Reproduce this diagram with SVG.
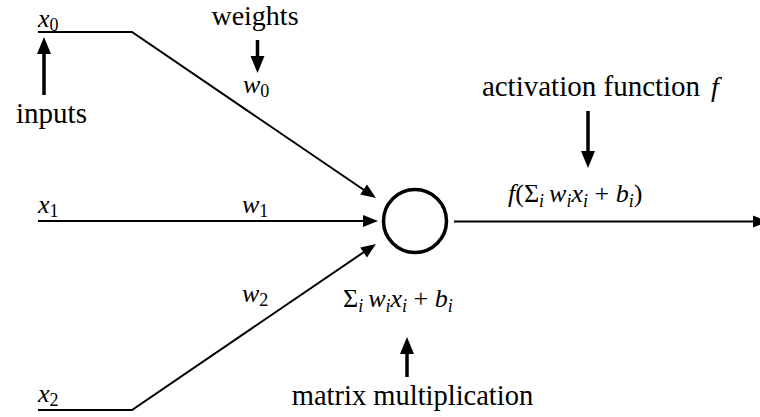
<svg xmlns="http://www.w3.org/2000/svg" width="760" height="417" viewBox="0 0 760 417">
<defs>
<path id="headThin" d="M0,0 L-15,-6 L-15,6 z" fill="#000"/>
<path id="headThick" d="M0,0 L-17,-7 L-17,7 z" fill="#000"/>
</defs>
<g id="connectors" fill="none" stroke="#000">
<g stroke-width="2">
<polyline points="38,32 132,32 364,190"/>
<line x1="38" y1="221" x2="365" y2="221"/>
<polyline points="38,410 132,410 364,252"/>
<line x1="454" y1="221.5" x2="755" y2="221.5"/>
</g>
<g stroke-width="3.5">
<line x1="44" y1="95" x2="44" y2="50"/>
<line x1="257.5" y1="40" x2="257.5" y2="60"/>
<line x1="588" y1="111" x2="588" y2="155"/>
<line x1="407" y1="377" x2="407" y2="350"/>
</g>
<g stroke="none">
<use href="#headThin" transform="translate(376,198) rotate(34.2)"/>
<use href="#headThin" transform="translate(378,221)"/>
<use href="#headThin" transform="translate(376,244) rotate(-34.2)"/>
<use href="#headThin" transform="translate(768,221.5)"/>
<use href="#headThick" transform="translate(44,37) rotate(-90)"/>
<use href="#headThick" transform="translate(257.5,73) rotate(90)"/>
<use href="#headThick" transform="translate(588,168) rotate(90)"/>
<use href="#headThick" transform="translate(407,337) rotate(-90)"/>
</g>
</g>
<g id="neuron">
<circle cx="415" cy="221" r="31.5" fill="#fff" stroke="#000" stroke-width="3.5"/>
</g>
<g id="input-x0"><text x="38" y="27" font-family="Liberation Serif, serif" font-size="26"><tspan font-style="italic">x</tspan><tspan font-size="18" dy="4">0</tspan></text></g>
<g id="input-x1"><text x="38" y="213" font-family="Liberation Serif, serif" font-size="26"><tspan font-style="italic">x</tspan><tspan font-size="18" dy="4">1</tspan></text></g>
<g id="input-x2"><text x="38" y="402" font-family="Liberation Serif, serif" font-size="26"><tspan font-style="italic">x</tspan><tspan font-size="18" dy="4">2</tspan></text></g>
<g id="weight-w0"><text x="243" y="93" font-family="Liberation Serif, serif" font-size="26"><tspan font-style="italic">w</tspan><tspan font-size="18" dy="4">0</tspan></text></g>
<g id="weight-w1"><text x="242" y="213" font-family="Liberation Serif, serif" font-size="26"><tspan font-style="italic">w</tspan><tspan font-size="18" dy="4">1</tspan></text></g>
<g id="weight-w2"><text x="242" y="302" font-family="Liberation Serif, serif" font-size="26"><tspan font-style="italic">w</tspan><tspan font-size="18" dy="4">2</tspan></text></g>
<g id="label-weights"><text x="255" y="25" text-anchor="middle" font-family="Liberation Serif, serif" font-size="28">weights</text></g>
<g id="label-inputs"><text x="51.5" y="123" text-anchor="middle" font-family="Liberation Serif, serif" font-size="29">inputs</text></g>
<g id="label-activation"><text x="591" y="96" text-anchor="middle" font-family="Liberation Serif, serif" font-size="29">activation function</text><text x="711" y="96" font-family="Liberation Serif, serif" font-size="28" font-style="italic">f</text></g>
<g id="label-output"><text x="508" y="202" font-family="Liberation Serif, serif" font-size="26"><tspan font-style="italic">f</tspan>(&#931;<tspan font-size="18" font-style="italic" dy="5">i</tspan><tspan font-style="italic" dy="-5" dx="5">w</tspan><tspan font-size="18" font-style="italic" dy="5">i</tspan><tspan font-style="italic" dy="-5">x</tspan><tspan font-size="18" font-style="italic" dy="5">i</tspan><tspan dy="-5"> + </tspan><tspan font-style="italic">b</tspan><tspan font-size="18" font-style="italic" dy="5">i</tspan><tspan dy="-5">)</tspan></text></g>
<g id="label-sum"><text x="343" y="307" font-family="Liberation Serif, serif" font-size="26">&#931;<tspan font-size="18" font-style="italic" dy="5">i</tspan><tspan font-style="italic" dy="-5" dx="5">w</tspan><tspan font-size="18" font-style="italic" dy="5">i</tspan><tspan font-style="italic" dy="-5">x</tspan><tspan font-size="18" font-style="italic" dy="5">i</tspan><tspan dy="-5"> + </tspan><tspan font-style="italic">b</tspan><tspan font-size="18" font-style="italic" dy="5">i</tspan></text></g>
<g id="label-matrix"><text x="412.5" y="405" text-anchor="middle" font-family="Liberation Serif, serif" font-size="28.5">matrix multiplication</text></g>
</svg>
